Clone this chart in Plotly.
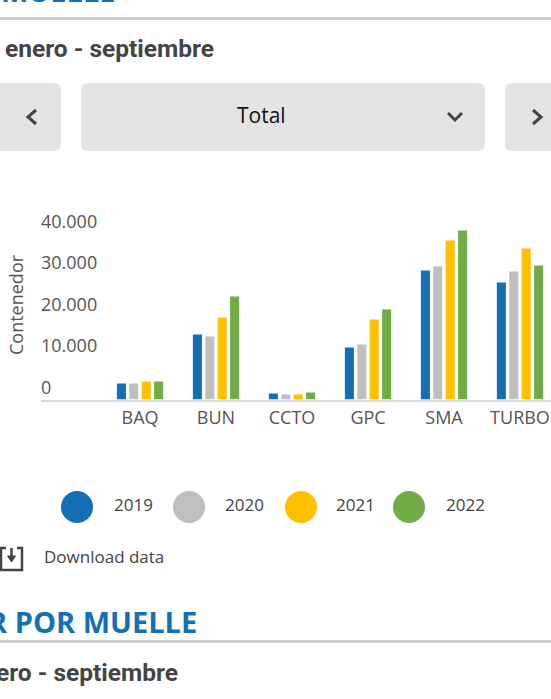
import plotly.graph_objects as go

categories = ["BAQ", "BUN", "CCTO", "GPC", "SMA", "TURBO"]
s2019 = [3860, 15660, 1450, 12530, 31080, 28190]
s2020 = [3860, 15180, 1200, 13250, 32050, 30840]
s2021 = [4340, 19760, 1200, 19280, 38310, 36390]
s2022 = [4340, 24820, 1690, 21690, 40720, 32290]
years = ["2019", "2020", "2021", "2022"]
colors = ["#1470b5", "#bfbfbf", "#ffc000", "#70ad47"]
y_ticks = [0, 10000, 20000, 30000, 40000]
y_labels = ["0", "10.000", "20.000", "30.000", "40.000"]

W, H = 551, 699
BLUE = "#1470b5"
GREY = "#444444"
FONT = "Open Sans"


def px(x):
    return x / W


def py(y):
    return 1 - y / H


fig = go.Figure()
for name, vals, col in zip(years, [s2019, s2020, s2021, s2022], colors):
    fig.add_bar(name=name, x=categories, y=vals, marker_color=col, marker_line_width=0)

shapes = []
annots = []


def rrect(x0, y0, x1, y1, r, fill):
    p = (f"M {px(x0+r)} {py(y0)} L {px(x1-r)} {py(y0)} Q {px(x1)} {py(y0)} {px(x1)} {py(y0+r)} "
         f"L {px(x1)} {py(y1-r)} Q {px(x1)} {py(y1)} {px(x1-r)} {py(y1)} "
         f"L {px(x0+r)} {py(y1)} Q {px(x0)} {py(y1)} {px(x0)} {py(y1-r)} "
         f"L {px(x0)} {py(y0+r)} Q {px(x0)} {py(y0)} {px(x0+r)} {py(y0)} Z")
    shapes.append(dict(type="path", xref="paper", yref="paper", path=p, fillcolor=fill, line_width=0, layer="below"))


def poly(pts, color="#444444", width=3, fill=None):
    p = "M " + " L ".join(f"{px(a)} {py(b)}" for a, b in pts)
    d = dict(type="path", xref="paper", yref="paper", path=p, line=dict(color=color, width=width))
    if fill:
        d["path"] += " Z"
        d["fillcolor"] = fill
    shapes.append(d)


def rect(x0, y0, x1, y1, fill):
    shapes.append(dict(type="rect", xref="paper", yref="paper", x0=px(x0), x1=px(x1), y0=py(y0), y1=py(y1),
                       fillcolor=fill, line_width=0, layer="below"))


def text(x, y, s, size, color, family=FONT, anchor="left", weight=None, angle=0):
    f = dict(size=size, color=color, family=family)
    if weight:
        f["weight"] = weight
    annots.append(dict(xref="paper", yref="paper", x=px(x), y=py(y), text=s, showarrow=False, xanchor=anchor,
                       yanchor="middle", font=f, textangle=angle))


# page furniture
rect(0, 17, 551, 20, "#d0cece")
rect(0, 640, 551, 643, "#d0cece")
text(118, -10, "MUELLE", 29, BLUE, anchor="right", weight=700)
text(199, 621, "R POR MUELLE", 29, BLUE, anchor="right", weight=700)
text(3, 48, "enero - septiembre", 24.5, GREY, "Roboto", weight=700)
text(180, 672, "enero - septiembre", 24.5, GREY, "Roboto", anchor="right", weight=700)

# selector
rrect(-10, 83, 61, 151, 7, "#e4e4e4")
rrect(81, 83, 485, 151, 7, "#e4e4e4")
rrect(505, 83, 570, 151, 7, "#e4e4e4")
text(261, 115, "Total", 21, "#111111", anchor="center")
poly([(36, 110), (28, 117), (36, 124)])
poly([(533, 110), (541, 117), (533, 124)])
poly([(448, 113), (455, 120), (462, 113)])

# legend
lx = [77, 189, 301, 409]
tx = [112, 223, 334, 444]
for cx, t, name, col in zip(lx, tx, years, colors):
    shapes.append(dict(type="circle", xref="paper", yref="paper", x0=px(cx - 16), x1=px(cx + 16),
                       y0=py(507 + 16), y1=py(507 - 16), fillcolor=col, line_width=0))
    text(t, 504, name, 17, GREY)

# download
poly([(6, 548), (1, 548), (1, 570), (22, 570), (22, 548), (17, 548)], "#444444", 2.5)
poly([(11.5, 548), (11.5, 558)], "#444444", 2.5)
poly([(7.5, 556), (15.5, 556), (11.5, 562)], "#444444", 1, fill="#444444")
text(42, 556, "Download data", 17, GREY)

# y axis title
text(16, 305, "Contenedor", 18, "#555555", anchor="center", angle=-90)

fig.update_layout(
    width=W, height=H, autosize=False,
    margin=dict(l=0, r=0, t=0, b=0),
    paper_bgcolor="white", plot_bgcolor="white",
    showlegend=False, barmode="group", bargap=0.347, bargroupgap=0.27,
    font=dict(family=FONT, size=16, color=GREY),
    shapes=shapes, annotations=annots,
    xaxis=dict(domain=[41 / W, 1], type="category", range=[-1.303, 5.408], showgrid=False,
               ticks="", showline=True, linecolor="#d9d9d9", linewidth=2, tickfont=dict(size=18, color="#555555"),
               ticklabelstandoff=1, automargin=False),
    yaxis=dict(domain=[1 - 399.5 / H, 1 - 192 / H], range=[0, 50000], tickvals=y_ticks, ticktext=y_labels,
               ticklabelposition="inside", ticklabelshift=-12, ticklabelstandoff=-3, showgrid=False, zeroline=False,
               showline=False, ticks="", tickfont=dict(size=18, color="#555555"), automargin=False),
)

fig.write_html("out.html", config=dict(displayModeBar=False),
               post_script="document.body.style.margin='0';document.body.style.overflow='hidden';")
